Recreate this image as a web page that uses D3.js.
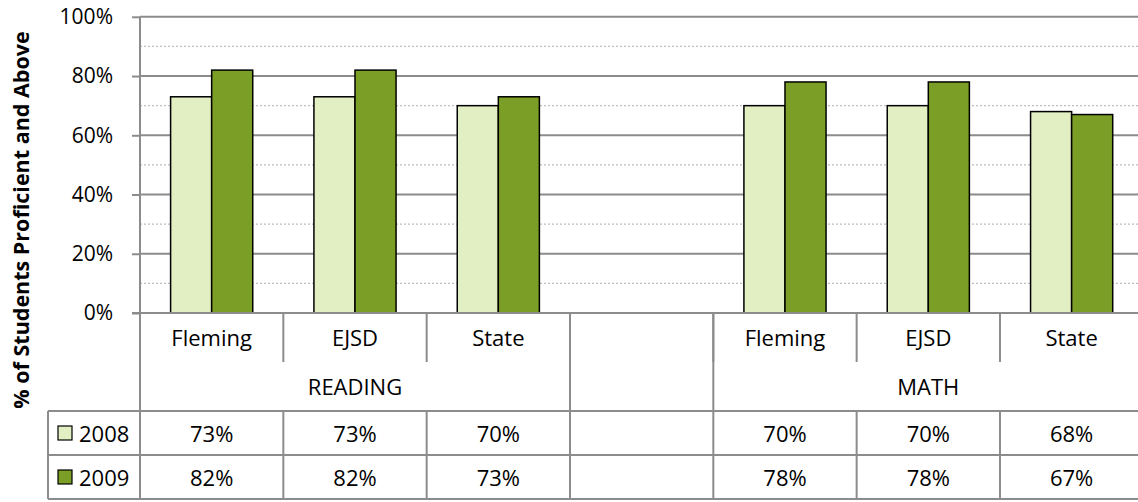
<!DOCTYPE html>
<html>
<head>
<meta charset="utf-8">
<script src="https://cdn.jsdelivr.net/npm/d3@7"></script>
<style>
  html, body { margin: 0; padding: 0; background: #fff; }
  svg { display: block; font-family: "Open Sans", sans-serif; }
</style>
</head>
<body>
<svg id="chart" width="1138" height="502"></svg>
<script>
// ---- data ----
const categories = ["Fleming", "EJSD", "State", "", "Fleming", "EJSD", "State"];
const groupLabels = ["READING", "", "MATH"];
const groupSizes = [3, 1, 3];
const seriesNames = ["2008", "2009"];
const values2008 = [73, 73, 70, null, 70, 70, 68];
const values2009 = [82, 82, 73, null, 78, 78, 67];
const yTicks = [0, 20, 40, 60, 80, 100];
const yMinorTicks = [10, 30, 50, 70, 90];

(function () {
// ---- layout ----
const colors = ["#e2efc3", "#7a9e26"];
const gridCol = "#8c8c8c";
const svg = d3.select("#chart");
const pLeft = 140, pRight = 1143.3, pTop = 16.8, pBottom = 313;
const catRowBottom = 362, tableTop = 411, tableMid = 455, tableBottom = 499;
const legendLeft = 48;
const fs = 22;

const x = d3.scaleBand().domain(d3.range(categories.length)).range([pLeft, pRight]).padding(0);
const y = d3.scaleLinear().domain([0, 100]).range([pBottom, pTop]);
const inner = d3.scaleBand().domain(seriesNames).range([0, x.bandwidth()]).paddingOuter(0.745).paddingInner(0);

// minor gridlines (dotted)
svg.append("g").selectAll("line").data(yMinorTicks).join("line")
  .attr("x1", pLeft).attr("x2", 1138)
  .attr("y1", d => y(d)).attr("y2", d => y(d))
  .attr("stroke", "#bdbdbd").attr("stroke-width", 1.2).attr("stroke-dasharray", "2,2");

// major gridlines & y axis
const yAxis = d3.axisLeft(y).tickValues(yTicks).tickFormat(d => d + "%").tickSize(8).tickPadding(19);
const gy = svg.append("g").attr("transform", `translate(${pLeft},0)`).call(yAxis);
gy.select(".domain").remove();
gy.selectAll(".tick line").attr("stroke", gridCol).attr("stroke-width", 2);
gy.selectAll(".tick text").attr("font-family", "Open Sans").attr("font-size", 21).attr("fill", "#000");
svg.append("g").selectAll("line").data(yTicks.filter(d => d > 0)).join("line")
  .attr("x1", pLeft).attr("x2", 1138)
  .attr("y1", d => y(d)).attr("y2", d => y(d))
  .attr("stroke", gridCol).attr("stroke-width", 2);

// bars
const series = [values2008, values2009];
seriesNames.forEach((name, si) => {
  svg.append("g").selectAll("rect")
    .data(series[si].map((v, i) => ({ v, i })).filter(d => d.v != null))
    .join("rect")
    .attr("x", d => x(d.i) + inner(name))
    .attr("width", inner.bandwidth())
    .attr("y", d => y(d.v))
    .attr("height", d => y(0) - y(d.v))
    .attr("fill", colors[si])
    .attr("stroke", "#000").attr("stroke-width", 1.5);
});

// axis lines
svg.append("line").attr("x1", pLeft).attr("x2", pLeft).attr("y1", pTop).attr("y2", tableBottom)
  .attr("stroke", gridCol).attr("stroke-width", 2);
svg.append("line").attr("x1", 132).attr("x2", 1138).attr("y1", pBottom).attr("y2", pBottom)
  .attr("stroke", gridCol).attr("stroke-width", 2);

// category labels
svg.append("g").selectAll("text").data(categories).join("text")
  .attr("x", (d, i) => x(i) + x.bandwidth() / 2).attr("y", 337)
  .attr("text-anchor", "middle").attr("dominant-baseline", "central")
  .attr("font-size", fs).text(d => d);

// group boundaries
const starts = [];
let acc = 0;
groupSizes.forEach(s => { starts.push(acc); acc += s; });
const groupEdges = starts.slice(1).map(s => x(s));
const allEdges = d3.range(1, categories.length).map(i => x(i));

svg.append("g").selectAll("line").data(allEdges).join("line")
  .attr("x1", d => d).attr("x2", d => d).attr("y1", pBottom).attr("y2", catRowBottom)
  .attr("stroke", gridCol).attr("stroke-width", 2);
svg.append("g").selectAll("line").data(groupEdges).join("line")
  .attr("x1", d => d).attr("x2", d => d).attr("y1", pBottom).attr("y2", tableTop)
  .attr("stroke", gridCol).attr("stroke-width", 2);

// group labels
svg.append("g").selectAll("text").data(groupLabels).join("text")
  .attr("x", (d, gi) => (x(starts[gi]) + x(starts[gi] + groupSizes[gi] - 1) + x.bandwidth()) / 2)
  .attr("y", 386).attr("text-anchor", "middle").attr("dominant-baseline", "central")
  .attr("font-size", fs).text(d => d);

// data table lines
[tableTop, tableMid, tableBottom].forEach(yy => {
  svg.append("line").attr("x1", legendLeft).attr("x2", 1138).attr("y1", yy).attr("y2", yy)
    .attr("stroke", gridCol).attr("stroke-width", 2);
});
svg.append("line").attr("x1", legendLeft).attr("x2", legendLeft).attr("y1", tableTop).attr("y2", tableBottom)
  .attr("stroke", gridCol).attr("stroke-width", 2);
svg.append("g").selectAll("line").data(allEdges).join("line")
  .attr("x1", d => d).attr("x2", d => d).attr("y1", tableTop).attr("y2", tableBottom)
  .attr("stroke", gridCol).attr("stroke-width", 2);

// legend keys + values
const rowCenters = [433, 477];
seriesNames.forEach((name, si) => {
  const cy = rowCenters[si];
  svg.append("rect").attr("x", 58).attr("y", cy - 7).attr("width", 14).attr("height", 14)
    .attr("fill", colors[si]).attr("stroke", "#000").attr("stroke-width", 1.2);
  svg.append("text").attr("x", 79).attr("y", cy).attr("dominant-baseline", "central")
    .attr("font-size", fs).text(name);
  svg.append("g").selectAll("text")
    .data(series[si].map((v, i) => ({ v, i })).filter(d => d.v != null))
    .join("text")
    .attr("x", d => x(d.i) + x.bandwidth() / 2).attr("y", cy)
    .attr("text-anchor", "middle").attr("dominant-baseline", "central")
    .attr("font-size", fs).text(d => d.v + "%");
});

// y-axis title
svg.append("text")
  .attr("transform", "translate(20,220) rotate(-90)")
  .attr("text-anchor", "middle").attr("dominant-baseline", "central")
  .attr("font-weight", "bold").attr("font-size", 21.5)
  .text("% of Students Proficient and Above");
})();
</script>
</body>
</html>
